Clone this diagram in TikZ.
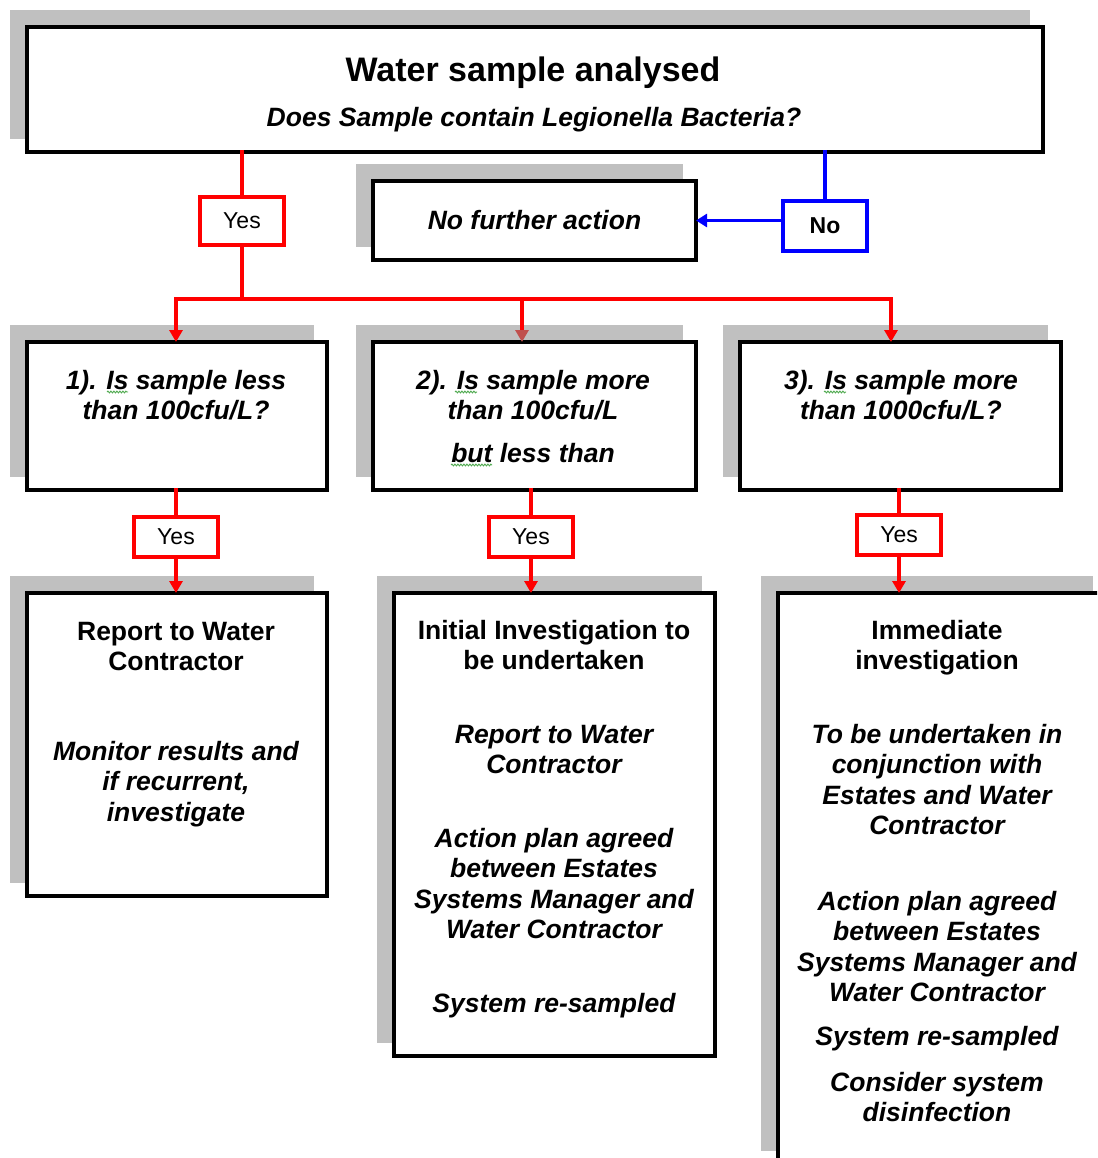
\documentclass[tikz,border=0pt]{standalone}
\usepackage{fontspec}
\setmainfont{Liberation Sans}
\usetikzlibrary{arrows.meta,shadows,decorations.pathmorphing}
\definecolor{shgray}{RGB}{192,192,192}
\definecolor{tipred}{RGB}{192,80,77}
\definecolor{sqgreen}{RGB}{80,170,80}
\newcommand\fbody{\fontsize{26.5pt}{30.5pt}\selectfont\bfseries}
\newcommand\fbi{\fontsize{26.5pt}{30.5pt}\selectfont\bfseries\itshape}
\tikzset{
  box/.style={draw=black, line width=4.5pt, fill=white, outer sep=0pt, inner sep=0pt, anchor=north west,
    general shadow={fill=shgray, draw=shgray, line width=4.5pt, shadow xshift=-15pt, shadow yshift=15pt}},
  ybox/.style={draw=red, line width=3.5pt, fill=white, minimum width=84pt, minimum height=40pt,
    inner sep=0pt, outer sep=0pt, font=\fontsize{23pt}{27pt}\selectfont},
  nbox/.style={draw=blue, line width=3.5pt, fill=white, minimum width=84pt, minimum height=50pt,
    inner sep=0pt, outer sep=0pt, font=\fontsize{23pt}{27pt}\selectfont\bfseries},
  ln/.style={inner sep=0pt, text height=19pt, text depth=0pt, font=\fbody},
  lni/.style={inner sep=0pt, text height=19pt, text depth=0pt, font=\fbi},
  rl/.style={draw=red, line width=3.5pt, line cap=rect},
  ra/.style={draw=red, line width=3.5pt, -{Triangle[width=13pt,length=12pt]}},
  bl/.style={draw=blue, line width=3.5pt, line cap=rect},
  ba/.style={draw=blue, line width=3.5pt, -{Triangle[width=13pt,length=11pt]}},
  sq/.style={draw=sqgreen, line width=0.9pt, decorate, decoration={snake, segment length=3pt, amplitude=0.9pt}}
}
\begin{document}
\begin{tikzpicture}[x=1pt,y=-1pt]
\clip (0,0) rectangle (1097,1158);
\fill[white] (0,0) rectangle (1097,1158);

% boxes
\node[box, minimum width=1016pt, minimum height=125pt] (top) at (27,27) {};
\node[box, minimum width=323pt, minimum height=79pt, font=\fbi] (nfa) at (373,181) {No further action};
\node[box, minimum width=300pt, minimum height=148pt] (q1) at (27,342) {};
\node[box, minimum width=323pt, minimum height=148pt] (q2) at (373,342) {};
\node[box, minimum width=321pt, minimum height=148pt] (q3) at (740,342) {};
\node[box, minimum width=300pt, minimum height=303pt] (r1) at (27,593) {};
\node[box, minimum width=321pt, minimum height=463pt] (r2) at (394,593) {};
\node[box, minimum width=328pt, minimum height=571pt] (r3) at (778,593) {};

% top texts
\node[inner sep=0pt, text height=24pt, text depth=0pt, font=\fontsize{34pt}{38pt}\selectfont\bfseries] (title) at (533,70) {Water sample analysed};
\node[lni] (question) at (534,117) {Does Sample contain Legionella Bacteria?};

% decision labels
\node[ybox, minimum height=48pt] (y0) at (242,221) {Yes};
\node[nbox] (no) at (825,226) {No};
\node[ybox] (y1) at (176,537) {Yes};
\node[ybox] (y2) at (531,537) {Yes};
\node[ybox] (y3) at (899,535) {Yes};

% question texts
\node[lni] (q1a) at (176,380) {1). Is sample less};
\node[lni] (q1b) at (176,410) {than 100cfu/L?};
\node[lni] (q2a) at (533,380) {2). Is sample more};
\node[lni] (q2b) at (533,410) {than 100cfu/L};
\node[lni] (q2c) at (533,453) {but less than};
\node[lni] (q3a) at (901,380) {3). Is sample more};
\node[lni] (q3b) at (901,410) {than 1000cfu/L?};

% spelling marks
\draw[sq] (107,392) -- (128,392);
\draw[sq] (455,392) -- (477,392);
\draw[sq] (451,465) -- (492,465);
\draw[sq] (824,392) -- (846,392);

% result texts
\node[ln] (r1a) at (176,631) {Report to Water};
\node[ln] (r1b) at (176,661) {Contractor};
\node[lni] (r1c) at (176,751) {Monitor results and};
\node[lni] (r1d) at (176,781) {if recurrent,};
\node[lni] (r1e) at (176,812) {investigate};

\node[ln] (r2a) at (554,630) {Initial Investigation to};
\node[ln] (r2b) at (554,660) {be undertaken};
\node[lni] (r2c) at (554,734) {Report to Water};
\node[lni] (r2d) at (554,764) {Contractor};
\node[lni] (r2e) at (554,838) {Action plan agreed};
\node[lni] (r2f) at (554,868) {between Estates};
\node[lni] (r2g) at (554,899) {Systems Manager and};
\node[lni] (r2h) at (554,929) {Water Contractor};
\node[lni] (r2i) at (554,1003) {System re-sampled};

\node[ln] (r3a) at (937,630) {Immediate};
\node[ln] (r3b) at (937,660) {investigation};
\node[lni] (r3c) at (937,734) {To be undertaken in};
\node[lni] (r3d) at (937,764) {conjunction with};
\node[lni] (r3e) at (937,795) {Estates and Water};
\node[lni] (r3f) at (937,825) {Contractor};
\node[lni] (r3g) at (937,901) {Action plan agreed};
\node[lni] (r3h) at (937,931) {between Estates};
\node[lni] (r3i) at (937,962) {Systems Manager and};
\node[lni] (r3j) at (937,992) {Water Contractor};
\node[lni] (r3k) at (937,1036) {System re-sampled};
\node[lni] (r3l) at (937,1082) {Consider system};
\node[lni] (r3m) at (937,1112) {disinfection};

% connectors
\coordinate (a1) at (176,299);
\coordinate (a2) at (522,299);
\coordinate (a3) at (891,299);
\draw[rl] (y0.north |- top.south) -- (y0.north);
\draw[rl] (y0.south) -- (y0.south |- a1);
\draw[rl] (a1) -- (a3);
\draw[ra] (a1) -- (a1 |- q1.north);
\draw[draw=red, line width=3.5pt, -{Triangle[width=13pt,length=12pt,color=tipred]}] (a2) -- (a2 |- q2.north);
\draw[ra] (a3) -- (a3 |- q3.north);

\draw[bl] (no.north |- top.south) -- (no.north);
\draw[ba] (no.west |- nfa.east) -- (nfa.east);

\draw[rl] (y1.north |- q1.south) -- (y1.north);
\draw[ra] (y1.south) -- (y1.south |- r1.north);
\draw[rl] (y2.north |- q2.south) -- (y2.north);
\draw[ra] (y2.south) -- (y2.south |- r2.north);
\draw[rl] (y3.north |- q3.south) -- (y3.north);
\draw[ra] (y3.south) -- (y3.south |- r3.north);
\end{tikzpicture}
\end{document}
